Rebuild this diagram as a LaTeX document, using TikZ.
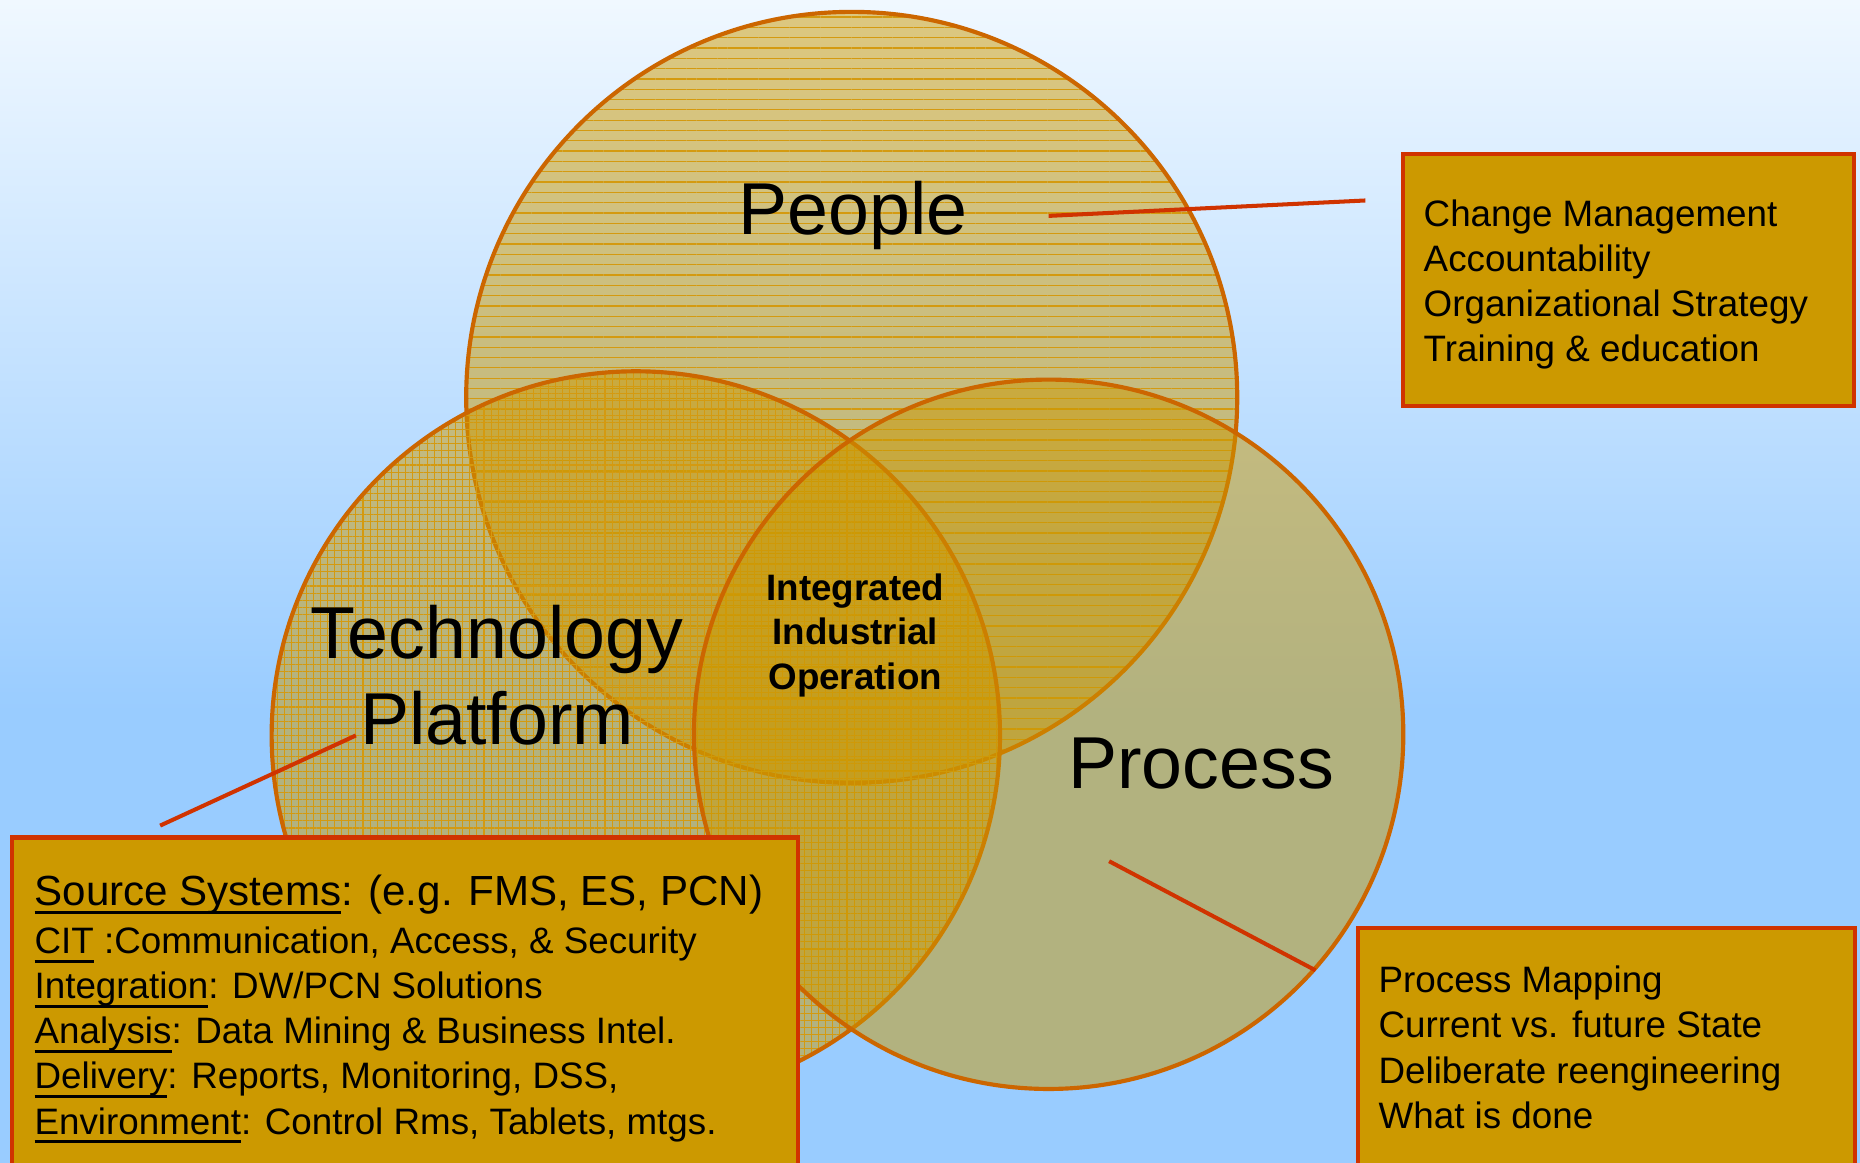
\documentclass[tikz,border=0pt]{standalone}
\usepackage{fontspec}
\setmainfont{Liberation Sans}
\usetikzlibrary{patterns.meta}
\definecolor{gold}{HTML}{CC9900}
\definecolor{ringorange}{HTML}{CC6600}
\definecolor{boxred}{HTML}{D03300}
\definecolor{skytop}{HTML}{F0F8FF}
\definecolor{skybottom}{HTML}{99CCFF}
\definecolor{hatchgold}{HTML}{D49A10}
\newcommand{\myul}[1]{\setbox0\hbox{#1}\rlap{\rule[-7.9pt]{\wd0}{2.8pt}}\box0\relax}
\tikzset{
  ring/.style={circle, inner sep=0pt, outer sep=0pt, draw=ringorange, line width=3.5pt},
  goldwash/.style={preaction={fill=gold, fill opacity=0.5}},
  hlines/.style={pattern={Lines[angle=0,distance=8.7pt,line width=1.1pt]}, pattern color=hatchgold, fill opacity=0.55},
  gridlines/.style={pattern={Hatch[angle=0,distance=6pt,line width=0.9pt]}, pattern color=hatchgold, fill opacity=0.4},
  biglabel/.style={font=\fontsize{62}{73}\selectfont, inner sep=0pt, text=black},
  corelabel/.style={font=\fontsize{31}{37.5}\selectfont\bfseries, inner sep=0pt, text=black},
  infobox/.style={draw=boxred, fill=gold, line width=3.5pt, inner sep=0pt, outer sep=0pt},
  boxtext/.style={font=\fontsize{31}{38}\selectfont, inner sep=0pt, align=left, text=black},
  connector/.style={draw=boxred, line width=3.4pt},
}
\begin{document}
\begin{tikzpicture}[x=1pt,y=-1pt]
\useasboundingbox (0,0) rectangle (1568,980);
% background
\fill[top color=skytop, bottom color=skybottom] (0,0) rectangle (1568,600);
\fill[skybottom] (0,599) rectangle (1568,980);
% circles
\node[ring, minimum size=650pt, goldwash, hlines] (people) at (718,335) {};
\node[ring, minimum size=614pt, goldwash, gridlines] (tech) at (536,620) {};
\node[ring, minimum size=598pt, fill=gold, fill opacity=0.5] (process) at (884,619) {};
% labels (base anchor = baseline of last line)
\node[biglabel, anchor=base] (peoplelabel) at (719,198) {People};
\node[biglabel, align=center, anchor=base] (techlabel) at (419,628) {Technology\\Platform};
\node[biglabel, anchor=base] (processlabel) at (1012.5,665) {Process};
\node[corelabel, align=center, anchor=base] (core) at (721,581) {Integrated\\Industrial\\Operation};
% boxes
\node[infobox, minimum width=380pt, minimum height=212pt, anchor=north west] (peoplebox) at (1183,130) {};
\node[boxtext, anchor=base west] (peopletext) at (1200,304.6) {Change Management\\Accountability\\Organizational Strategy\\Training \& education};
\node[infobox, minimum width=663pt, minimum height=320pt, anchor=north west] (techbox) at (10,706) {};
\node[boxtext, anchor=base west] (techtext) at (29,956) {{\fontsize{35.5}{43}\selectfont\myul{Source Systems}: (e.g. FMS, ES, PCN)}\\[3pt]
\myul{CIT} :Communication, Access, \& Security\\
\myul{Integration}: DW/PCN Solutions\\
\myul{Analysis}: Data Mining \& Business Intel.\\
\myul{Delivery}: Reports, Monitoring, DSS,\\
\myul{Environment}: Control Rms, Tablets, mtgs.};
\node[infobox, minimum width=419pt, minimum height=300pt, anchor=north west] (processbox) at (1145,782) {};
\node[boxtext, anchor=base west] (processtext) at (1162,951) {Process Mapping\\Current vs. future State\\Deliberate reengineering\\What is done};
% connectors
\coordinate (peopletip) at (884,182);
\coordinate (peoplefoot) at (1151,169);
\coordinate (techtip) at (300,620);
\coordinate (techfoot) at (135,696);
\coordinate (processtip) at (935,726);
\coordinate (processfoot) at (1109,818);
\draw[connector] (peopletip) -- (peoplefoot);
\draw[connector] (techtip) -- (techfoot);
\draw[connector] (processtip) -- (processfoot);
\end{tikzpicture}
\end{document}
